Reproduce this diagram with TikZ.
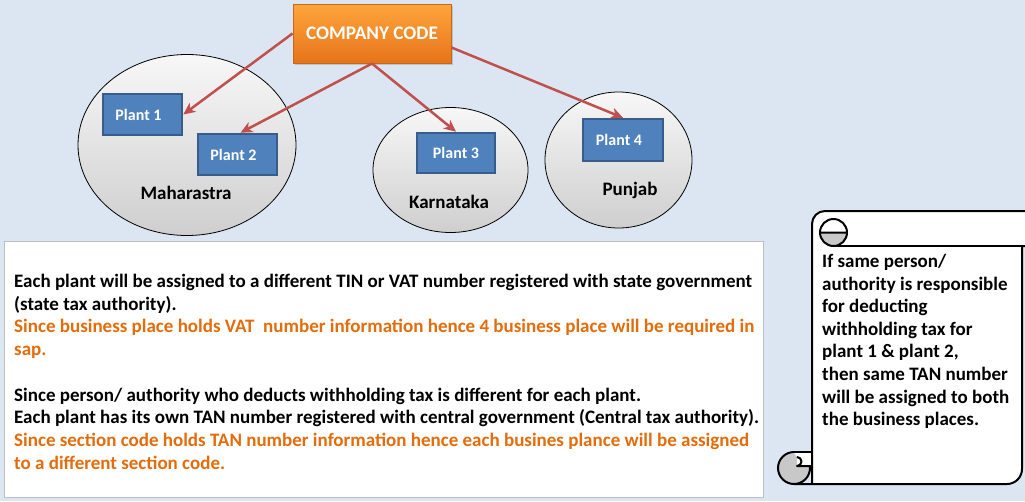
\documentclass[tikz,border=0pt]{standalone}
\usepackage{fontspec}
\setmainfont{Carlito}
\usetikzlibrary{arrows.meta,shapes.geometric,shadows,calc}
\definecolor{bgc}{HTML}{DCE6F2}
\definecolor{plantfill}{HTML}{4F81BD}
\definecolor{plantline}{HTML}{385D8A}
\definecolor{arrowc}{HTML}{C0504D}
\definecolor{orng}{HTML}{E46C0A}
\definecolor{cctop}{HTML}{FFA53C}
\definecolor{ccbot}{HTML}{E6741A}
\definecolor{ccline}{HTML}{C8661A}
\definecolor{boxline}{HTML}{BFBFBF}
\definecolor{curl}{HTML}{C8C8C8}
\tikzset{
  region/.style={ellipse, draw=black, line width=0.8pt, top color=gray!6, bottom color=gray!38, inner sep=0pt},
  plant/.style={rectangle, draw=plantline, fill=plantfill, line width=2.5pt, text=white, font=\fontsize{16}{18}\selectfont\bfseries, inner sep=0pt},
  regname/.style={font=\fontsize{19}{21}\selectfont\bfseries, text=black, inner sep=0pt},
  link/.style={draw=arrowc, line width=2.5pt, -{Stealth[length=12pt,width=11pt,inset=3.5pt]}},
  ccbox/.style={rectangle, draw=ccline, line width=1pt, top color=cctop, bottom color=ccbot, text=white, font=\fontsize{19.2}{22}\selectfont\bfseries, drop shadow={shadow xshift=2pt, shadow yshift=-2pt, opacity=0.35}},
  notebox/.style={rectangle, draw=boxline, fill=white, line width=1pt, inner sep=0pt},
  scrollline/.style={draw=black, line width=2pt, line join=round}
}
\begin{document}
\begin{tikzpicture}[x=1pt,y=-1pt]
\useasboundingbox (0,0) rectangle (1025,501);
\fill[bgc] (0,0) rectangle (1025,501);

% regions
\node[region, minimum width=218pt, minimum height=181pt] (mh) at (187,145) {};
\node[region, minimum width=155pt, minimum height=125pt] (ka) at (450.5,170) {};
\node[region, minimum width=147pt, minimum height=136pt] (pb) at (618.5,160) {};
\node[regname] (mht) at (186,193) {Maharastra};
\node[regname] (kat) at (449,202) {Karnataka};
\node[regname] (pbt) at (630,190) {Punjab};

% plants
\node[plant, minimum width=79pt, minimum height=41pt] (p1) at (142.5,114.5) {\hspace*{-8pt}Plant 1};
\node[plant, minimum width=79pt, minimum height=41pt] (p2) at (237.5,154.5) {\hspace*{-8pt}Plant 2};
\node[plant, minimum width=78pt, minimum height=40pt] (p3) at (456,153) {Plant 3};
\node[plant, minimum width=80pt, minimum height=42pt] (p4) at (623,140) {\hspace*{-8pt}Plant 4};

% company code
\node[ccbox, minimum width=158pt, minimum height=59pt] (cc) at (372,33.5) {COMPANY CODE};

% links
\draw[link] (cc.west) -- (p1.east);
\draw[link] (cc.south) -- ($(p2.north)+(3,0)$);
\draw[link] (cc.south) -- (p3.north);
\draw[link] ($(cc.east)+(0,14)$) -- (p4.north);

% note box
\node[notebox, minimum width=759pt, minimum height=256pt, anchor=north west] (nb) at (4,241) {};
\node[anchor=north west, align=left, inner sep=0pt, font=\fontsize{19}{22.7}\selectfont\bfseries] (nt) at (14,274) {Each plant will be assigned to a different TIN or VAT number registered with state government\\
(state tax authority).\\
\textcolor{orng}{Since business place holds VAT\ \ number information hence 4 business place will be required in}\\
\textcolor{orng}{sap.}\\
\mbox{}\\
Since person/ authority who deducts withholding tax is different for each plant.\\
Each plant has its own TAN number registered with central government (Central tax authority).\\
\textcolor{orng}{Since section code holds TAN number information hence each busines plance will be assigned}\\
\textcolor{orng}{to a different section code.}};

% scroll
\filldraw[scrollline, fill=white] (812,484) -- (812,224) arc[start angle=180,end angle=270,radius=13] -- (1030,211) -- (1030,246) -- (1022,246) -- (1022,469) arc[start angle=0,end angle=90,radius=15] -- (794,484) -- cycle;
\draw[scrollline] (833,246) -- (1022,246);
% top curl
\filldraw[scrollline, fill=curl] (820,232.5) arc[start angle=180,end angle=0,radius=13.5] -- cycle;
\draw[scrollline] (820,232.5) arc[start angle=180,end angle=360,radius=13.5];
% bottom curl
\filldraw[scrollline, fill=curl] (794,468) circle[radius=16];
\fill[white] (794,453) -- (811,453) -- (811,466) -- (797,466) -- (797,457) -- cycle;
\draw[scrollline] (794,452) -- (812,452);
\draw[scrollline] (797,457) arc[start angle=-90,end angle=90,radius=4.5] -- (811,466);
\draw[scrollline] (812,440) -- (812,484);
\node[anchor=north west, align=left, inner sep=0pt, font=\fontsize{19}{22.6}\selectfont\bfseries] (st) at (822,254) {If same person/\\
authority is responsible\\
for deducting\\
withholding tax for\\
plant 1 \& plant 2,\\
then same TAN number\\
will be assigned to both\\
the business places.};
\end{tikzpicture}
\end{document}
